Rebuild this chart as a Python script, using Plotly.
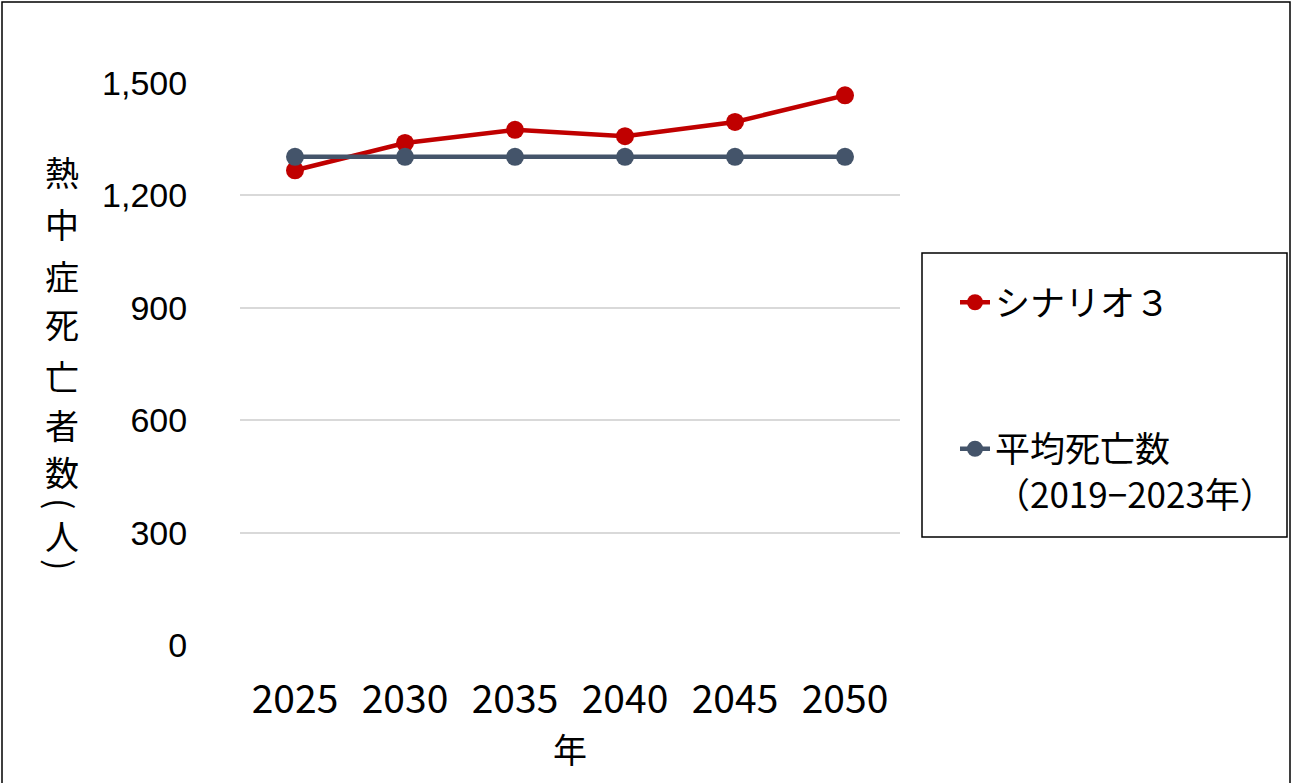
import plotly.graph_objects as go

years = ["2025", "2030", "2035", "2040", "2045", "2050"]
scenario3 = [1267, 1340, 1375, 1358, 1396, 1467]
average = [1303, 1303, 1303, 1303, 1303, 1303]
y_ticks = [0, 300, 600, 900, 1200, 1500]
y_tick_text = ["0", "300", "600", "900", "1,200", "1,500"]

W, H = 1293, 783
L, R, T, B = 240, 393, 83, 138
pw, ph = W - L - R, H - T - B

def px(x):
    return (x - L) / pw

def py(y):
    return (H - B - y) / ph

JP = "Noto Sans CJK JP"

fig = go.Figure()
fig.add_trace(go.Scatter(
    x=years, y=scenario3, name="シナリオ３", mode="lines+markers",
    line=dict(color="#C00000", width=4.5),
    marker=dict(color="#C00000", size=18),
    legendgroup="a", cliponaxis=False))
fig.add_trace(go.Scatter(
    x=years, y=average, name="平均死亡数<br>（2019−2023年）", mode="lines+markers",
    line=dict(color="#44546A", width=4.5),
    marker=dict(color="#44546A", size=18),
    legendgroup="b", cliponaxis=False))

fig.update_layout(
    width=W, height=H,
    margin=dict(l=L, r=R, t=T, b=B),
    paper_bgcolor="white", plot_bgcolor="white",
    font=dict(family=JP, color="black"),
    xaxis=dict(
        type="category", showgrid=False, showline=False, zeroline=False,
        tickfont=dict(family=JP, size=39), ticks="outside", ticklen=20,
        tickcolor="rgba(0,0,0,0)",
        title=dict(text="年", font=dict(family=JP, size=34), standoff=14),
        range=[-0.5, 5.5]),
    yaxis=dict(
        range=[0, 1500], tickvals=y_ticks, ticktext=y_tick_text,
        showgrid=True, gridcolor="#D9D9D9", gridwidth=1.5,
        zeroline=False, showline=False,
        tickfont=dict(family="Liberation Sans", size=34),
        ticks="outside", ticklen=45, tickcolor="rgba(0,0,0,0)"),
    legend=dict(
        x=px(955), y=py(273), xanchor="left", yanchor="top",
        borderwidth=0, bgcolor="rgba(0,0,0,0)",
        font=dict(family=JP, size=35),
        traceorder="grouped", tracegroupgap=98, valign="top",
        itemsizing="trace"),
    showlegend=True,
)

# legend frame
fig.add_shape(type="rect", xref="paper", yref="paper",
              x0=px(922), x1=px(1287), y0=py(537), y1=py(253),
              line=dict(color="black", width=1.5), fillcolor="rgba(0,0,0,0)")

# vertical y-axis title
title_chars = ["熱", "中", "症", "死", "亡", "者", "数", "(", "人", ")"]
title_ys = [171, 223, 275, 323, 376, 425, 471, 504, 535, 565]
for ch, yy in zip(title_chars, title_ys):
    rot = 90 if ch in "()" else 0
    fig.add_annotation(
        text=ch, x=px(62), y=py(yy), xref="paper", yref="paper",
        xanchor="center", yanchor="middle", showarrow=False,
        textangle=rot,
        font=dict(family=JP, size=34))

# outer frame
fig.add_shape(type="rect", xref="paper", yref="paper",
              x0=px(2), x1=px(1290), y0=py(2), y1=py(795),
              line=dict(color="black", width=1.5), fillcolor="rgba(0,0,0,0)")

fig.write_html("out.html")
